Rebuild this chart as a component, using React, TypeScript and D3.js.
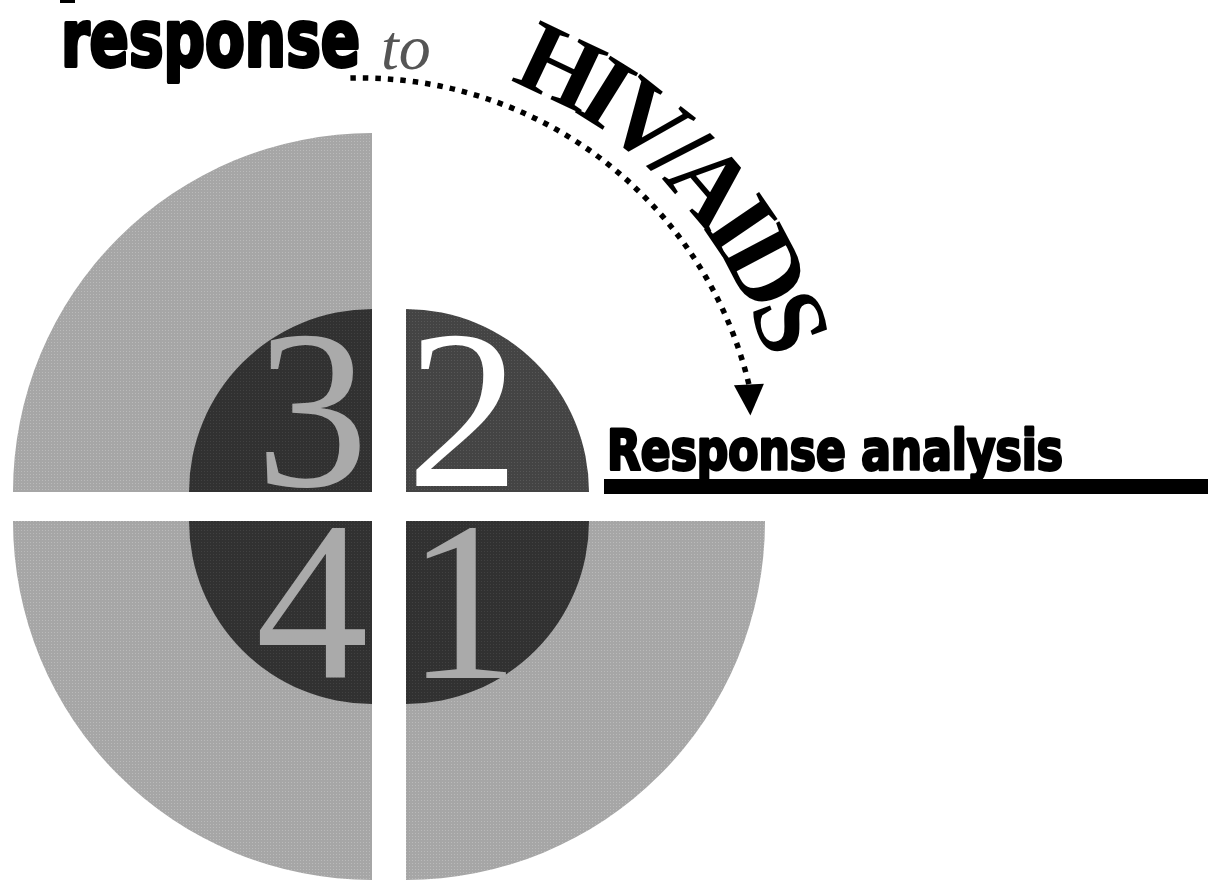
import React from "react";
import * as d3 from "d3";

// ---- data ----
const quadrantLabels = ["1", "2", "3", "4"];
const quadrantStartDeg = [90, 0, 270, 180]; // clockwise from 12 o'clock
const quadrantOuterShown = [true, false, true, true];
const quadrantInnerTone = ["dark", "mid", "dark", "dark"];
const quadrantLabelTone = ["light", "white", "light", "light"];
const titleWords = ["response", "to", "HIV/AIDS"];
const subtitle = "Response analysis";

const W = 1208;
const H = 885;
const gapL = 372, gapR = 406, gapT = 492, gapB = 521;
const R = 359, r = 183;

const fills: Record<string, string> = {
  light: "url(#patLight)",
  dark: "url(#patDark)",
  mid: "url(#patMid)",
};
const textFills: Record<string, string> = {
  light: "#aaaaaa",
  white: "#ffffff",
};

export default function App() {
  const toRad = (d: number) => (d * Math.PI) / 180;

  const quads = quadrantLabels.map((lab, i) => {
    const a0 = toRad(quadrantStartDeg[i]);
    const a1 = a0 + Math.PI / 2;
    const mid = (a0 + a1) / 2;
    const right = Math.sin(mid) > 0;
    const top = Math.cos(mid) > 0;
    const cx = right ? gapR : gapL;
    const cy = top ? gapT : gapB;
    const outer = d3.arc()({ innerRadius: 0, outerRadius: R, startAngle: a0, endAngle: a1 } as any) as string;
    const inner = d3.arc()({ innerRadius: 0, outerRadius: r, startAngle: a0, endAngle: a1 } as any) as string;
    const lx = right ? 57 : -60;
    const ly = top ? -6 : 157;
    return { lab, i, cx, cy, outer, inner, lx, ly };
  });

  // dotted arrow arc
  const acx = 360, acy = 478, ar = 400;
  const aStart = -Math.PI / 2 - 0.024;
  const aEnd = -Math.PI / 2 + 1.335;
  const dp = d3.path();
  dp.arc(acx, acy, ar, aStart, aEnd);
  const ex = acx + ar * Math.cos(aEnd);
  const ey = acy + ar * Math.sin(aEnd);
  const tx = -Math.sin(aEnd) * 0.2, ty = 1;
  const tl = Math.hypot(tx, ty);
  const ux = tx / tl, uy = ty / tl;
  const tipX = ex + ux * 31, tipY = ey + uy * 31;
  const nx = -uy, ny = ux;
  const arrow = d3.line()([
    [ex + nx * 15, ey + ny * 15],
    [tipX, tipY],
    [ex - nx * 15, ey - ny * 15],
  ]) + "Z";

  // text path for HIV/AIDS
  const tp = d3.path();
  tp.arc(acx, acy, 424, -Math.PI / 2 + 0.36, -Math.PI / 2 + 1.7);

  return (
    <svg
      width={W}
      height={H}
      style={{ position: "absolute", left: 0, top: 0, background: "#fff" }}
    >
      <defs>
        <pattern id="patLight" width="3" height="3" patternUnits="userSpaceOnUse">
          <rect width="3" height="3" fill="#a6a6a6" />
          <rect width="1" height="1" fill="#bababa" />
        </pattern>
        <pattern id="patDark" width="3" height="3" patternUnits="userSpaceOnUse">
          <rect width="3" height="3" fill="#313131" />
          <rect width="1" height="1" fill="#414141" />
        </pattern>
        <pattern id="patMid" width="3" height="3" patternUnits="userSpaceOnUse">
          <rect width="3" height="3" fill="#444444" />
          <rect width="1" height="1" fill="#575757" />
        </pattern>
        <path id="hivPath" d={tp.toString()} />
      </defs>

      <rect x={60} y={0} width={15} height={3} fill="#000" />

      {quads.map((q) => (
        <g key={q.lab} transform={`translate(${q.cx},${q.cy})`}>
          {quadrantOuterShown[q.i] && <path d={q.outer} fill={fills.light} />}
          <path d={q.inner} fill={fills[quadrantInnerTone[q.i]]} />
          <text
            x={q.lx}
            y={q.ly}
            textAnchor="middle"
            fontFamily="'Liberation Serif', serif"
            fontSize={226}
            fill={textFills[quadrantLabelTone[q.i]]}
          >
            {q.lab}
          </text>
        </g>
      ))}

      <text
        x={61}
        y={66}
        fontFamily="'DejaVu Sans', sans-serif"
        fontWeight="bold"
        fontSize={78}
        textLength={299}
        lengthAdjust="spacingAndGlyphs"
        fill="#000"
        stroke="#000"
        strokeWidth={4}
        strokeLinejoin="round"
      >
        {titleWords[0]}
      </text>
      <text
        x={381}
        y={69}
        fontFamily="'Liberation Serif', serif"
        fontStyle="italic"
        fontSize={64}
        fill="#555"
      >
        {titleWords[1]}
      </text>

      <path
        d={dp.toString()}
        fill="none"
        stroke="#000"
        strokeWidth={5.5}
        strokeDasharray="5.5 7"
      />
      <path d={arrow} fill="#000" />

      <text
        fontFamily="'Liberation Serif', serif"
        fontWeight="bold"
        fontSize={102}
        letterSpacing={-10}
        fill="#000"
      >
        <textPath href="#hivPath">{titleWords[2]}</textPath>
      </text>

      <text
        x={607}
        y={469}
        fontFamily="'DejaVu Sans', sans-serif"
        fontWeight="bold"
        fontSize={55}
        textLength={456}
        lengthAdjust="spacingAndGlyphs"
        fill="#000"
        stroke="#000"
        strokeWidth={3}
        strokeLinejoin="round"
      >
        {subtitle}
      </text>
      <rect x={604} y={479} width={W - 604} height={15} fill="#000" />
    </svg>
  );
}
